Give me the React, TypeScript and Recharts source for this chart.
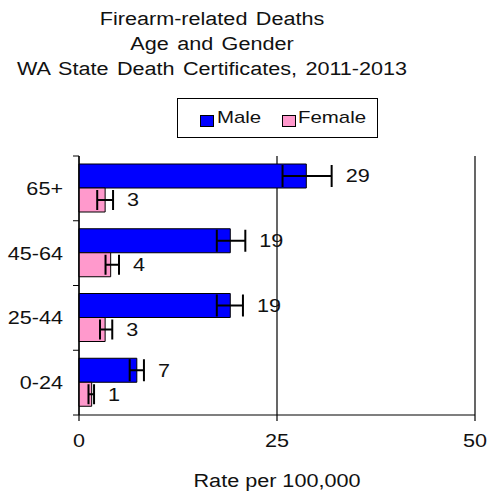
import React from 'react';
import { BarChart, Bar, XAxis, YAxis, CartesianGrid, ErrorBar, LabelList } from 'recharts';

const categories = ['65+', '45-64', '25-44', '0-24'];
const maleRates = [28.7, 19.1, 19.1, 7.3];
const femaleRates = [3.3, 4.0, 3.3, 1.6];
const maleErrors = [[3.0, 3.2], [1.7, 1.9], [1.7, 1.6], [0.9, 0.9]];
const femaleErrors = [[1.0, 1.0], [0.65, 1.05], [0.65, 0.9], [0.4, 0.3]];
const maleLabels = ['29', '19', '19', '7'];
const femaleLabels = ['3', '4', '3', '1'];
const xTicks = [0, 25, 50];

const data = categories.map((age, i) => ({
  age,
  male: maleRates[i],
  female: femaleRates[i],
  maleErr: maleErrors[i],
  femaleErr: femaleErrors[i],
  maleLabel: maleLabels[i],
  femaleLabel: femaleLabels[i],
}));

const W = 492;
const H = 493;
const PLOT_LEFT = 79;
const PLOT_RIGHT = 475;
const PLOT_TOP = 156;
const PLOT_BOTTOM = 415;
const X_AXIS_H = 30;
const PX_PER_UNIT = (PLOT_RIGHT - PLOT_LEFT) / 50;
const BAND = (PLOT_BOTTOM - PLOT_TOP) / categories.length;

const FONT = '"Liberation Sans", Arial, sans-serif';
const TEXT = '#111';
// the source picture has its text stretched sideways a little
const SX = 1.2;

const SText = ({ x, y, anchor = 'start', dy = '0', children }: any) => (
  <text transform={`translate(${x},${y}) scale(${SX},1)`} textAnchor={anchor} dy={dy} fontSize={18} fill={TEXT}>
    {children}
  </text>
);

const YTick = (props: any) => {
  const { y, payload, index } = props;
  return (
    <g>
      <line x1={PLOT_LEFT - 6} x2={PLOT_LEFT} y1={y - BAND / 2} y2={y - BAND / 2} stroke="#000" />
      {index === categories.length - 1 && (
        <line x1={PLOT_LEFT - 6} x2={PLOT_LEFT} y1={y + BAND / 2} y2={y + BAND / 2} stroke="#000" />
      )}
      <SText x={PLOT_LEFT - 16} y={y} dy="0.355em" anchor="end">{payload.value}</SText>
    </g>
  );
};

const XTick = (props: any) => {
  const { x, payload } = props;
  return <SText x={x} y={PLOT_BOTTOM + 32} anchor="middle">{payload.value}</SText>;
};

const makeLabel = (errs: number[][]) => (props: any) => {
  const vb = props.viewBox || {};
  const x = props.x ?? vb.x;
  const y = props.y ?? vb.y;
  const width = props.width ?? vb.width;
  const height = props.height ?? vb.height;
  const hi = errs[props.index][1] * PX_PER_UNIT;
  return <SText x={x + width + hi + 14} y={y + height / 2} dy="0.355em">{props.value}</SText>;
};

const stretch = (origin: string): React.CSSProperties => ({ transform: `scaleX(${SX})`, transformOrigin: origin });

export default function App() {
  return (
    <div style={{ position: 'absolute', left: 0, top: 0, width: W, height: H, fontFamily: FONT, color: TEXT }}>
      <div style={{ position: 'absolute', left: 0, top: 7, width: 424, textAlign: 'center', fontSize: 18, lineHeight: '25px', wordSpacing: 2, ...stretch('212px 0') }}>
        <div>Firearm-related Deaths</div>
        <div>Age and Gender</div>
        <div>WA State Death Certificates, 2011-2013</div>
      </div>

      <div style={{ position: 'absolute', left: 177, top: 98, width: 201, height: 40, border: '1px solid #000', boxSizing: 'border-box' }}>
        <div style={{ position: 'absolute', left: 22, top: 16, width: 14, height: 12, background: '#0000FF', border: '1px solid #000', boxSizing: 'border-box' }} />
        <div style={{ position: 'absolute', left: 39, top: 8, fontSize: 17, lineHeight: '22px', whiteSpace: 'nowrap', ...stretch('0 0') }}>Male</div>
        <div style={{ position: 'absolute', left: 104, top: 16, width: 14, height: 12, background: '#FF99CC', border: '1px solid #000', boxSizing: 'border-box' }} />
        <div style={{ position: 'absolute', left: 120, top: 8, fontSize: 17, lineHeight: '22px', whiteSpace: 'nowrap', ...stretch('0 0') }}>Female</div>
      </div>

      <BarChart
        width={W}
        height={H}
        data={data}
        layout="vertical"
        margin={{ top: PLOT_TOP, right: W - PLOT_RIGHT, bottom: H - PLOT_BOTTOM - X_AXIS_H, left: 0 }}
        barSize={24}
        barGap={0}
      >
        <CartesianGrid horizontal={false} stroke="#000" strokeWidth={1.2} />
        <XAxis
          type="number"
          domain={[0, 50]}
          ticks={xTicks}
          height={X_AXIS_H}
          stroke="#000"
          strokeWidth={1.2}
          tickSize={6}
          tick={<XTick />}
        />
        <YAxis
          type="category"
          dataKey="age"
          width={PLOT_LEFT}
          stroke="#000"
          strokeWidth={1.2}
          tickLine={false}
          tick={<YTick />}
        />
        <Bar dataKey="male" fill="#0000FF" stroke="#000" strokeWidth={1} isAnimationActive={false}>
          <ErrorBar dataKey="maleErr" direction="x" width={11} strokeWidth={2} stroke="#000" isAnimationActive={false} />
          <LabelList dataKey="maleLabel" content={makeLabel(maleErrors)} />
        </Bar>
        <Bar dataKey="female" fill="#FF99CC" stroke="#000" strokeWidth={1} isAnimationActive={false}>
          <ErrorBar dataKey="femaleErr" direction="x" width={10} strokeWidth={2} stroke="#000" isAnimationActive={false} />
          <LabelList dataKey="femaleLabel" content={makeLabel(femaleErrors)} />
        </Bar>
      </BarChart>

      <div style={{ position: 'absolute', left: 177, top: 470, width: 200, textAlign: 'center', fontSize: 18, lineHeight: '22px', ...stretch('100px 0') }}>
        Rate per 100,000
      </div>
    </div>
  );
}
